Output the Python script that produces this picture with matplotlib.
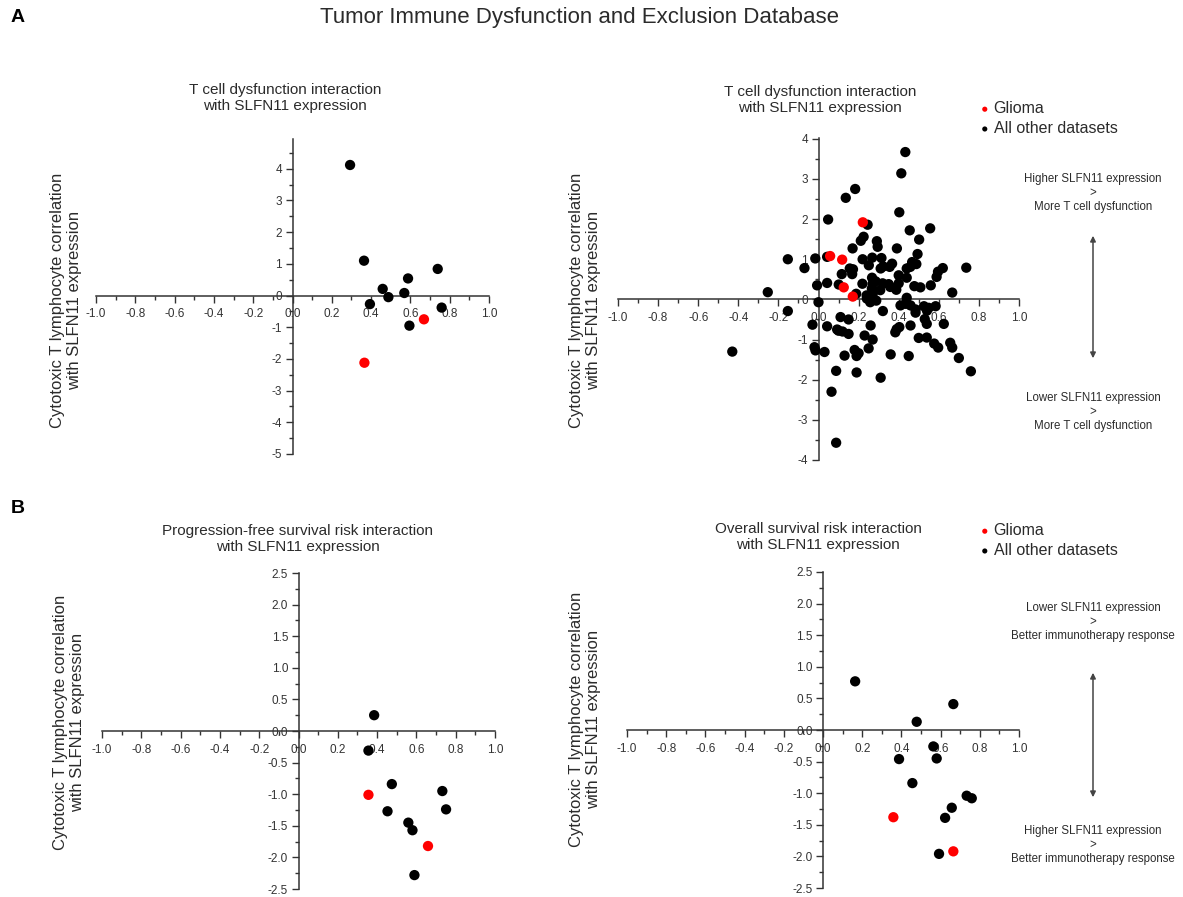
import matplotlib
matplotlib.use('Agg')
import matplotlib.pyplot as plt
from matplotlib.ticker import MultipleLocator, FormatStrFormatter

plt.rcParams['font.family'] = ['Liberation Sans', 'DejaVu Sans']
TXT = '#2b2b2b'

# ---- data (x: correlation with SLFN11, y: interaction z-score) ----
# A left: T cell dysfunction, glioma subset
a1_other_x = [0.293, 0.364, 0.739, 0.588, 0.459, 0.569, 0.488, 0.394, 0.759, 0.595]
a1_other_y = [4.12, 1.10, 0.84, 0.54, 0.21, 0.08, -0.05, -0.27, -0.38, -0.95]
a1_glioma_x = [0.669, 0.366]
a1_glioma_y = [-0.75, -2.12]

# A right: T cell dysfunction, all datasets
a2_other_x = [0.433, 0.413, 0.183, 0.136, 0.403, 0.245, 0.048, 0.557, 0.455, 0.502,
              0.225, 0.211, 0.291, 0.295, 0.391, 0.170, 0.494, 0.043, -0.016, -0.153,
              -0.070, 0.220, 0.268, 0.314, 0.251, 0.367, 0.355, 0.467, 0.488, 0.458,
              0.440, 0.737, 0.620, 0.596, 0.589, 0.156, 0.172, 0.116, 0.168, 0.310,
              0.323, 0.400, 0.440, 0.267, 0.043, 0.101, -0.007, -0.253, 0.219, 0.270,
              0.285, 0.320, 0.350, 0.358, 0.400, 0.478, 0.508, 0.560, 0.667, 0.388,
              0.308, 0.266, 0.188, 0.240, 0.270, 0.241, 0.288, 0.258, 0.440, 0.409,
              0.434, 0.459, 0.484, 0.526, 0.550, 0.584, 0.484, 0.541, 0.321, 0.000,
              -0.153, -0.030, 0.043, 0.110, 0.150, 0.260, 0.403, 0.383, 0.459, 0.530,
              0.540, 0.625, 0.093, 0.120, 0.150, 0.230, 0.270, 0.500, 0.540, 0.577,
              0.597, 0.657, 0.667, 0.700, 0.760, 0.250, 0.180, 0.200, 0.190, 0.130,
              0.360, 0.450, -0.020, -0.015, 0.030, -0.430, 0.088, 0.190, 0.310, 0.065,
              0.088, 0.390, 0.100]
a2_other_y = [3.67, 3.14, 2.75, 2.53, 2.17, 1.86, 1.99, 1.77, 1.72, 1.49,
              1.56, 1.46, 1.45, 1.31, 1.27, 1.27, 1.13, 1.06, 1.02, 1.00,
              0.78, 1.00, 1.04, 1.03, 0.85, 0.89, 0.81, 0.93, 0.88, 0.81,
              0.77, 0.79, 0.78, 0.69, 0.56, 0.77, 0.75, 0.63, 0.63, 0.77,
              0.82, 0.60, 0.54, 0.54, 0.41, 0.37, 0.35, 0.18, 0.39, 0.39,
              0.45, 0.40, 0.38, 0.31, 0.40, 0.33, 0.30, 0.35, 0.17, 0.24,
              0.23, 0.27, 0.14, 0.10, 0.13, 0.02, -0.03, -0.07, 0.04, -0.15,
              -0.11, -0.15, -0.25, -0.17, -0.21, -0.17, -0.33, -0.28, -0.29, -0.07,
              -0.29, -0.63, -0.67, -0.44, -0.50, -0.65, -0.69, -0.82, -0.65, -0.49,
              -0.61, -0.61, -0.75, -0.80, -0.86, -0.90, -1.00, -0.96, -0.95, -1.10,
              -1.20, -1.08, -1.20, -1.46, -1.79, -1.22, -1.26, -1.34, -1.41, -1.40,
              -1.37, -1.41, -1.19, -1.27, -1.31, -1.30, -1.78, -1.82, -1.95, -2.30,
              -3.57, -0.74, -0.78]
a2_glioma_x = [0.058, 0.118, 0.126, 0.171, 0.221]
a2_glioma_y = [1.08, 0.99, 0.30, 0.07, 1.92]

# B left: progression-free survival risk
b1_other_x = [0.385, 0.356, 0.475, 0.453, 0.559, 0.580, 0.590, 0.732, 0.751]
b1_other_y = [0.25, -0.31, -0.84, -1.27, -1.45, -1.57, -2.28, -0.95, -1.24]
b1_glioma_x = [0.356, 0.659]
b1_glioma_y = [-1.01, -1.82]

# B right: overall survival risk
b2_other_x = [0.164, 0.665, 0.478, 0.563, 0.388, 0.580, 0.456, 0.733, 0.759, 0.657, 0.623, 0.592]
b2_other_y = [0.77, 0.41, 0.13, -0.26, -0.46, -0.45, -0.84, -1.04, -1.08, -1.23, -1.39, -1.96]
b2_glioma_x = [0.359, 0.665]
b2_glioma_y = [-1.38, -1.92]

W, H = 1183, 897
fig = plt.figure(figsize=(W / 100, H / 100), dpi=100)


def px_axes(left, right, top, bottom):
    # pixel box -> figure fraction
    return fig.add_axes([left / W, 1 - bottom / H, (right - left) / W, (bottom - top) / H])


def style_ax(ax, ylim, ymaj, ymin, yfmt):
    for s in ['top', 'right']:
        ax.spines[s].set_visible(False)
    for s in ['left', 'bottom']:
        ax.spines[s].set_position(('data', 0))
        ax.spines[s].set_color('#333333')
        ax.spines[s].set_linewidth(1.1)
    ax.set_xlim(-1, 1)
    ax.set_ylim(ylim)
    ax.xaxis.set_major_locator(MultipleLocator(0.2))
    ax.xaxis.set_minor_locator(MultipleLocator(0.1))
    ax.xaxis.set_major_formatter(FormatStrFormatter('%.1f'))
    ax.yaxis.set_major_locator(MultipleLocator(ymaj))
    ax.yaxis.set_minor_locator(MultipleLocator(ymin))
    ax.yaxis.set_major_formatter(FormatStrFormatter(yfmt))
    ax.tick_params(which='major', length=5, width=1, labelsize=8.5, colors='#333333', pad=2.5)
    ax.tick_params(axis='x', which='major', pad=4)
    ax.tick_params(which='minor', length=3, width=1, colors='#333333')
    ax.patch.set_alpha(0)


def draw(ax, ox, oy, gx, gy):
    ax.scatter(ox, oy, s=55, c='black', edgecolors='none', label='All other datasets', zorder=3)
    ax.scatter(gx, gy, s=55, c='red', edgecolors='none', label='Glioma', zorder=4)


ylab = 'Cytotoxic T lymphocyte correlation\nwith SLFN11 expression'

# A left
ax1 = px_axes(96, 489, 139, 454)
draw(ax1, a1_other_x, a1_other_y, a1_glioma_x, a1_glioma_y)
style_ax(ax1, (-5, 4.94), 1, 0.5, '%d')

# A right
ax2 = px_axes(618, 1019, 138, 460)
draw(ax2, a2_other_x, a2_other_y, a2_glioma_x, a2_glioma_y)
style_ax(ax2, (-4, 4.02), 1, 0.5, '%d')

# B left
ax3 = px_axes(102, 495, 573, 889)
draw(ax3, b1_other_x, b1_other_y, b1_glioma_x, b1_glioma_y)
style_ax(ax3, (-2.5, 2.5), 0.5, 0.25, '%.1f')

# B right
ax4 = px_axes(627, 1019, 572, 888)
draw(ax4, b2_other_x, b2_other_y, b2_glioma_x, b2_glioma_y)
style_ax(ax4, (-2.5, 2.5), 0.5, 0.25, '%.1f')


def ftext(x, y, s, **kw):
    kw.setdefault('color', TXT)
    fig.text(x / W, 1 - y / H, s, **kw)


ftext(580, 18, 'Tumor Immune Dysfunction and Exclusion Database', fontsize=16, ha='center', va='center')
ftext(18, 18, 'A', fontsize=14, fontweight='bold', ha='center', va='center', color='black')
ftext(18, 508, 'B', fontsize=14, fontweight='bold', ha='center', va='center', color='black')

ftext(285, 98, 'T cell dysfunction interaction\nwith SLFN11 expression', fontsize=11, ha='center', va='center', linespacing=1.15)
ftext(820, 100, 'T cell dysfunction interaction\nwith SLFN11 expression', fontsize=11, ha='center', va='center', linespacing=1.15)
ftext(298, 539, 'Progression-free survival risk interaction\nwith SLFN11 expression', fontsize=11, ha='center', va='center', linespacing=1.15)
ftext(818, 537, 'Overall survival risk interaction\nwith SLFN11 expression', fontsize=11, ha='center', va='center', linespacing=1.15)

for x, y in [(66, 300), (585, 300), (69, 722), (585, 719)]:
    ftext(x, y, ylab, fontsize=12, ha='center', va='center', rotation=90, linespacing=1.1)

# legends
for ax, ytop in [(ax2, 95), (ax4, 517)]:
    h, l = ax.get_legend_handles_labels()
    fig.legend(h[::-1], l[::-1], loc='upper left', bbox_to_anchor=(972 / W, 1 - ytop / H),
               frameon=False, fontsize=11.5, markerscale=0.5, handletextpad=0.15,
               labelspacing=0.3, handlelength=0.8, borderaxespad=0, labelcolor=TXT)

# direction notes
notes = [
    (193, 'Higher SLFN11 expression\n>\nMore T cell dysfunction', 233, 361, 412,
     'Lower SLFN11 expression\n>\nMore T cell dysfunction'),
    (622, 'Lower SLFN11 expression\n>\nBetter immunotherapy response', 670, 800, 845,
     'Higher SLFN11 expression\n>\nBetter immunotherapy response'),
]
for y_top, t_top, a0, a1, y_bot, t_bot in notes:
    ftext(1093, y_top, t_top, fontsize=8.3, ha='center', va='center', linespacing=1.25)
    ftext(1093, y_bot, t_bot, fontsize=8.3, ha='center', va='center', linespacing=1.25)
    fig.add_artist(matplotlib.patches.FancyArrowPatch(
        (1093 / W, 1 - a1 / H), (1093 / W, 1 - a0 / H), transform=fig.transFigure,
        arrowstyle='<|-|>', mutation_scale=8, color='#444444', lw=1.1))

plt.savefig('out.png', dpi=100)
